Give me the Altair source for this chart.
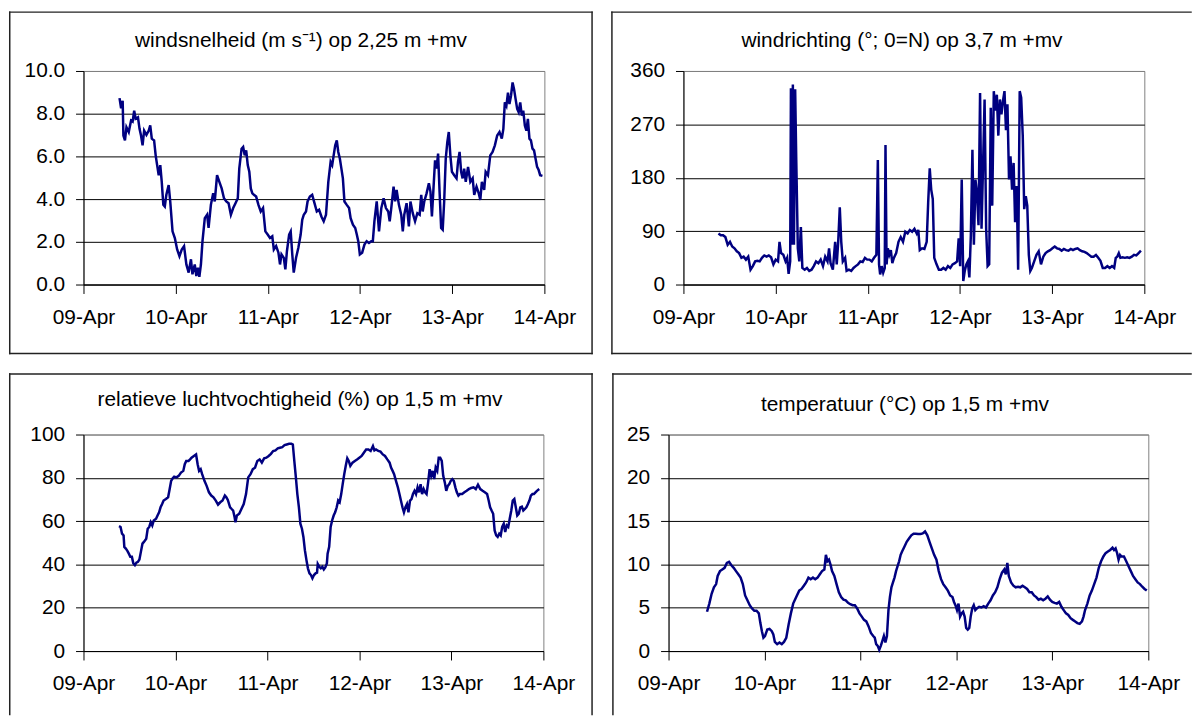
import json
import altair as alt
import pandas as pd

# ---------------- data (days since 09-Apr 00:00, value) ----------------
tick_labels = ["09-Apr", "10-Apr", "11-Apr", "12-Apr", "13-Apr", "14-Apr"]

ws_t = [0.391, 0.408, 0.425, 0.433, 0.45, 0.466, 0.491, 0.516, 0.533, 0.55, 0.566, 0.591, 0.608, 0.624, 0.641,
        0.658, 0.683, 0.708, 0.724, 0.741, 0.766, 0.783, 0.799, 0.816, 0.833, 0.849, 0.866, 0.882, 0.899, 0.924,
        0.941, 0.966, 0.991, 1.016, 1.041, 1.066, 1.091, 1.116, 1.141, 1.166, 1.182, 1.207, 1.224, 1.241, 1.257,
        1.274, 1.291, 1.316, 1.341, 1.357, 1.382, 1.407, 1.424, 1.449, 1.474, 1.499, 1.524, 1.549, 1.574, 1.599,
        1.624, 1.649, 1.674, 1.69, 1.715, 1.732, 1.749, 1.765, 1.782, 1.799, 1.815, 1.832, 1.849, 1.873, 1.898,
        1.923, 1.948, 1.973, 1.998, 2.023, 2.048, 2.065, 2.09, 2.115, 2.132, 2.148, 2.173, 2.19, 2.207, 2.231,
        2.248, 2.265, 2.281, 2.306, 2.331, 2.356, 2.373, 2.39, 2.414, 2.431, 2.456, 2.481, 2.506, 2.531, 2.556,
        2.581, 2.606, 2.631, 2.656, 2.681, 2.698, 2.714, 2.731, 2.748, 2.764, 2.781, 2.798, 2.814, 2.831, 2.856,
        2.881, 2.898, 2.923, 2.948, 2.965, 2.981, 2.998, 3.023, 3.048, 3.072, 3.097, 3.122, 3.139, 3.156, 3.181,
        3.206, 3.231, 3.256, 3.281, 3.306, 3.322, 3.339, 3.364, 3.381, 3.397, 3.422, 3.447, 3.464, 3.48, 3.505,
        3.53, 3.547, 3.572, 3.597, 3.622, 3.647, 3.664, 3.68, 3.697, 3.722, 3.747, 3.764, 3.78, 3.797, 3.814,
        3.83, 3.847, 3.863, 3.88, 3.897, 3.913, 3.93, 3.947, 3.963, 3.98, 3.997, 4.022, 4.047, 4.063, 4.08,
        4.097, 4.113, 4.13, 4.147, 4.172, 4.197, 4.222, 4.239, 4.264, 4.288, 4.305, 4.322, 4.347, 4.363, 4.388,
        4.413, 4.438, 4.463, 4.488, 4.513, 4.538, 4.555, 4.571, 4.588, 4.605, 4.621, 4.638, 4.655, 4.671, 4.688,
        4.705, 4.721, 4.738, 4.755, 4.771, 4.788, 4.805, 4.821, 4.838, 4.854, 4.871, 4.888, 4.904, 4.921, 4.938,
        4.954, 4.979]
ws_v = [8.73, 8.25, 8.6, 6.98, 6.75, 7.37, 7.14, 7.68, 7.63, 8.14, 7.76, 7.83, 7.29, 6.98, 6.52,
        7.21, 7.01, 7.21, 7.45, 6.83, 6.75, 6.05, 5.59, 5.12, 5.59, 4.81, 3.73, 3.65, 4.2, 4.66,
        3.89, 2.49, 2.18, 1.64, 1.33, 1.64, 1.8, 0.94, 0.56, 1.18, 0.48, 0.94, 0.4, 0.79, 0.36,
        0.94, 2.03, 3.11, 3.27, 2.65, 3.73, 4.27, 3.89, 5.12, 4.81, 4.5, 4.04, 3.89, 3.81, 3.27,
        3.58, 3.81, 4.04, 5.43, 6.36, 6.44, 6.05, 6.28, 5.59, 5.28, 4.5, 4.27, 4.2, 4.12, 3.73,
        3.42, 3.58, 2.49, 2.34, 2.18, 2.26, 1.64, 1.8, 1.49, 0.94, 1.41, 1.25, 0.71, 1.56, 2.34,
        2.49, 1.41, 0.56, 1.25, 1.72, 2.34, 3.03, 3.27, 3.42, 3.89, 4.12, 4.2, 3.81, 3.42, 3.5,
        3.19, 2.96, 3.27, 4.81, 5.74, 5.59, 6.05, 6.52, 6.75, 6.21, 5.9, 5.43, 4.97, 3.89, 3.73,
        3.58, 3.11, 2.8, 2.65, 2.34, 2.03, 1.41, 1.49, 1.87, 2.03, 1.95, 2.03, 2.03, 2.96, 3.89,
        2.49, 3.58, 4.04, 3.58, 3.42, 2.96, 3.58, 4.58, 3.89, 4.43, 3.73, 3.27, 2.49, 3.27, 3.81,
        2.72, 3.89, 3.34, 2.96, 3.34, 3.27, 4.2, 3.42, 3.89, 4.27, 4.74, 4.35, 3.19, 4.5, 5.82,
        5.43, 6.13, 4.35, 2.65, 2.57, 3.89, 5.9, 6.67, 7.14, 6.05, 5.28, 5.12, 4.97, 5.74, 6.21,
        5.28, 4.97, 5.43, 4.81, 5.51, 4.81, 4.97, 4.2, 4.58, 4.27, 3.96, 4.81, 4.43, 5.28, 5.12,
        6.05, 6.21, 6.52, 6.98, 7.14, 6.83, 7.29, 8.53, 8.37, 8.99, 8.45, 8.84, 9.46, 9.15, 8.68,
        8.22, 8.07, 8.53, 7.91, 8.14, 7.45, 7.21, 7.76, 6.83, 6.75, 6.36, 6.28, 5.9, 5.51, 5.36,
        5.12, 5.09]

wd_t = [0.38, 0.405, 0.43, 0.455, 0.48, 0.505, 0.529, 0.554, 0.579, 0.604, 0.629, 0.653, 0.678, 0.703, 0.728,
        0.753, 0.778, 0.802, 0.827, 0.852, 0.877, 0.902, 0.926, 0.951, 0.976, 1.001, 1.026, 1.042, 1.059, 1.084,
        1.108, 1.125, 1.141, 1.158, 1.166, 1.179, 1.187, 1.199, 1.212, 1.224, 1.241, 1.257, 1.274, 1.29, 1.315,
        1.34, 1.365, 1.39, 1.414, 1.439, 1.464, 1.489, 1.514, 1.538, 1.563, 1.58, 1.596, 1.621, 1.646, 1.663,
        1.679, 1.696, 1.712, 1.729, 1.754, 1.77, 1.795, 1.82, 1.845, 1.869, 1.894, 1.919, 1.944, 1.969, 1.993,
        2.018, 2.043, 2.068, 2.093, 2.109, 2.122, 2.134, 2.151, 2.167, 2.184, 2.192, 2.204, 2.217, 2.233, 2.25,
        2.266, 2.283, 2.308, 2.333, 2.357, 2.382, 2.407, 2.432, 2.456, 2.481, 2.506, 2.531, 2.548, 2.564, 2.589,
        2.614, 2.639, 2.655, 2.672, 2.688, 2.705, 2.721, 2.746, 2.771, 2.796, 2.82, 2.845, 2.87, 2.895, 2.92,
        2.945, 2.969, 2.986, 3.002, 3.019, 3.036, 3.052, 3.069, 3.085, 3.102, 3.118, 3.135, 3.151, 3.168, 3.184,
        3.201, 3.218, 3.234, 3.251, 3.267, 3.284, 3.3, 3.317, 3.334, 3.35, 3.367, 3.383, 3.4, 3.416, 3.433,
        3.45, 3.466, 3.483, 3.499, 3.515, 3.532, 3.548, 3.565, 3.582, 3.598, 3.615, 3.631, 3.648, 3.664, 3.681,
        3.697, 3.714, 3.73, 3.747, 3.763, 3.78, 3.805, 3.83, 3.854, 3.879, 3.904, 3.929, 3.954, 3.978, 4.003,
        4.028, 4.053, 4.078, 4.103, 4.127, 4.152, 4.177, 4.202, 4.226, 4.251, 4.276, 4.301, 4.326, 4.351, 4.375,
        4.4, 4.425, 4.45, 4.475, 4.5, 4.524, 4.549, 4.574, 4.599, 4.624, 4.649, 4.673, 4.69, 4.706, 4.723,
        4.74, 4.764, 4.789, 4.814, 4.839, 4.864, 4.888, 4.913, 4.938, 4.963]
wd_v = [86, 83, 83, 80, 67, 72, 64, 61, 56, 53, 45, 47, 42, 47, 25,
        31, 39, 40, 39, 45, 49, 47, 49, 46, 34, 42, 39, 72, 53, 50,
        39, 45, 18, 39, 331, 67, 337, 67, 329, 210, 61, 39, 97, 28, 25,
        28, 23, 25, 31, 39, 36, 42, 31, 47, 39, 61, 36, 25, 72, 34,
        72, 130, 72, 39, 45, 23, 25, 23, 28, 31, 34, 39, 38, 45, 42,
        42, 39, 45, 50, 210, 34, 17, 31, 20, 28, 235, 34, 61, 50, 58,
        36, 45, 53, 72, 80, 72, 89, 86, 92, 89, 94, 86, 92, 58, 61,
        60, 72, 138, 196, 160, 144, 45, 34, 25, 25, 28, 25, 31, 28, 34,
        36, 39, 78, 31, 177, 6, 23, 34, 39, 12, 83, 227, 67, 177, 155,
        100, 323, 94, 205, 312, 94, 31, 34, 298, 133, 326, 293, 320, 251, 312,
        287, 309, 326, 260, 304, 177, 216, 160, 205, 105, 166, 25, 326, 315, 251,
        127, 149, 133, 50, 23, 28, 39, 50, 56, 34, 47, 53, 56, 58, 61,
        64, 61, 60, 57, 60, 58, 57, 60, 58, 60, 61, 58, 56, 55, 53,
        50, 47, 47, 50, 45, 40, 28, 28, 31, 28, 31, 28, 45, 47, 53,
        45, 46, 45, 46, 45, 47, 50, 49, 53, 57]

rh_t = [0.386, 0.403, 0.419, 0.436, 0.444, 0.46, 0.477, 0.493, 0.509, 0.526, 0.542, 0.559, 0.575, 0.592, 0.608,
        0.624, 0.641, 0.657, 0.682, 0.698, 0.715, 0.731, 0.748, 0.764, 0.789, 0.805, 0.822, 0.838, 0.855, 0.871,
        0.896, 0.92, 0.937, 0.953, 0.97, 0.986, 1.011, 1.035, 1.06, 1.085, 1.101, 1.117, 1.142, 1.159, 1.175,
        1.2, 1.224, 1.241, 1.257, 1.274, 1.29, 1.315, 1.339, 1.364, 1.389, 1.413, 1.438, 1.463, 1.487, 1.512,
        1.537, 1.553, 1.569, 1.594, 1.611, 1.627, 1.643, 1.652, 1.668, 1.693, 1.717, 1.742, 1.767, 1.791, 1.816,
        1.841, 1.865, 1.89, 1.915, 1.939, 1.964, 1.988, 2.013, 2.038, 2.062, 2.087, 2.112, 2.136, 2.161, 2.186,
        2.21, 2.235, 2.26, 2.276, 2.292, 2.309, 2.325, 2.342, 2.358, 2.375, 2.391, 2.407, 2.424, 2.44, 2.457,
        2.473, 2.489, 2.506, 2.523, 2.539, 2.547, 2.564, 2.58, 2.597, 2.613, 2.629, 2.646, 2.654, 2.671, 2.687,
        2.703, 2.72, 2.736, 2.753, 2.769, 2.785, 2.802, 2.818, 2.835, 2.851, 2.868, 2.884, 2.901, 2.925, 2.95,
        2.974, 2.999, 3.024, 3.048, 3.073, 3.098, 3.122, 3.147, 3.163, 3.18, 3.205, 3.229, 3.254, 3.278, 3.303,
        3.328, 3.344, 3.361, 3.377, 3.402, 3.418, 3.435, 3.451, 3.468, 3.484, 3.5, 3.517, 3.533, 3.55, 3.566,
        3.582, 3.599, 3.615, 3.632, 3.648, 3.665, 3.681, 3.698, 3.714, 3.73, 3.747, 3.763, 3.78, 3.796, 3.813,
        3.829, 3.846, 3.862, 3.878, 3.895, 3.911, 3.928, 3.944, 3.961, 3.977, 3.993, 4.01, 4.026, 4.043, 4.059,
        4.076, 4.092, 4.117, 4.141, 4.166, 4.191, 4.215, 4.24, 4.265, 4.289, 4.314, 4.339, 4.363, 4.388, 4.405,
        4.421, 4.437, 4.454, 4.47, 4.487, 4.503, 4.52, 4.536, 4.552, 4.569, 4.585, 4.602, 4.618, 4.634, 4.651,
        4.667, 4.684, 4.7, 4.716, 4.733, 4.749, 4.766, 4.782, 4.799, 4.815, 4.832, 4.848, 4.864, 4.881, 4.897,
        4.914, 4.93, 4.955]
rh_v = [57.7, 57.3, 54.2, 53.4, 48.1, 47.3, 46.3, 45.0, 43.5, 43.5, 40.5, 39.7, 40.8, 41.2, 42.3,
        45.8, 49.6, 50.4, 51.9, 56.5, 57.3, 59.5, 58.0, 60.3, 61.1, 62.6, 64.1, 66.4, 67.9, 69.5,
        70.2, 71.0, 74.8, 78.6, 79.8, 80.5, 80.2, 80.9, 82.4, 83.2, 86.3, 87.8, 87.8, 88.5, 89.3,
        90.1, 90.8, 86.3, 83.2, 84.0, 81.7, 78.6, 76.3, 73.3, 71.8, 71.0, 69.5, 67.6, 68.7, 69.5,
        71.8, 71.0, 69.8, 66.4, 65.6, 64.9, 61.8, 59.5, 62.6, 63.4, 65.6, 67.9, 72.5, 80.2, 81.7,
        84.0, 84.7, 87.8, 88.5, 87.0, 89.0, 89.3, 90.1, 91.1, 92.4, 92.7, 93.6, 93.9, 94.2, 95.1,
        95.4, 95.7, 95.7, 95.4, 87.8, 80.2, 72.5, 66.4, 58.8, 56.5, 52.7, 46.6, 42.0, 38.2, 35.9,
        35.1, 33.6, 35.1, 35.9, 36.2, 40.2, 38.9, 38.2, 38.9, 37.7, 38.6, 40.5, 45.0, 48.1, 57.3,
        60.3, 62.6, 64.1, 66.4, 69.5, 68.7, 72.5, 77.1, 81.7, 85.5, 89.0, 87.8, 85.5, 87.0, 87.8,
        88.5, 89.3, 90.1, 91.6, 93.1, 93.1, 92.4, 94.7, 92.7, 93.1, 92.4, 92.1, 90.8, 90.1, 88.5,
        87.0, 84.7, 83.2, 81.7, 77.9, 75.6, 72.5, 69.5, 66.4, 64.1, 66.4, 67.9, 64.1, 69.5, 70.2,
        72.5, 74.0, 72.5, 75.6, 73.3, 77.1, 72.5, 74.8, 73.3, 72.5, 77.9, 84.0, 80.9, 83.2, 79.4,
        84.7, 83.2, 89.3, 89.3, 87.8, 80.9, 77.9, 74.0, 76.3, 77.1, 78.6, 79.4, 78.6, 75.6, 73.3,
        71.8, 72.5, 72.5, 73.3, 74.0, 74.8, 75.3, 75.6, 74.8, 76.8, 74.8, 74.0, 73.3, 72.5, 69.5,
        66.4, 64.9, 63.4, 55.7, 53.4, 52.7, 54.2, 53.4, 57.3, 58.8, 55.0, 58.0, 57.3, 61.1, 64.9,
        69.5, 70.2, 66.4, 62.6, 63.4, 66.4, 66.7, 64.9, 65.6, 66.4, 67.9, 69.5, 71.8, 72.5, 72.5,
        73.3, 74.0, 74.8]

tc_t = [0.401, 0.425, 0.449, 0.473, 0.496, 0.512, 0.536, 0.56, 0.584, 0.608, 0.631, 0.655, 0.679, 0.703, 0.727,
        0.751, 0.774, 0.798, 0.822, 0.846, 0.87, 0.894, 0.917, 0.941, 0.957, 0.973, 0.989, 1.005, 1.029, 1.052,
        1.076, 1.092, 1.108, 1.132, 1.156, 1.18, 1.203, 1.227, 1.251, 1.275, 1.299, 1.315, 1.338, 1.362, 1.386,
        1.41, 1.434, 1.458, 1.481, 1.505, 1.529, 1.553, 1.577, 1.6, 1.624, 1.64, 1.656, 1.672, 1.688, 1.704,
        1.728, 1.751, 1.775, 1.799, 1.823, 1.847, 1.871, 1.894, 1.918, 1.942, 1.966, 1.99, 2.014, 2.037, 2.061,
        2.085, 2.109, 2.133, 2.149, 2.164, 2.18, 2.196, 2.212, 2.228, 2.244, 2.26, 2.276, 2.292, 2.307, 2.323,
        2.339, 2.355, 2.371, 2.387, 2.403, 2.419, 2.434, 2.458, 2.482, 2.506, 2.53, 2.554, 2.577, 2.601, 2.625,
        2.649, 2.673, 2.697, 2.72, 2.744, 2.768, 2.792, 2.816, 2.84, 2.863, 2.887, 2.911, 2.935, 2.959, 2.975,
        2.99, 3.006, 3.022, 3.038, 3.054, 3.07, 3.086, 3.102, 3.118, 3.134, 3.149, 3.165, 3.181, 3.197, 3.213,
        3.237, 3.261, 3.284, 3.308, 3.332, 3.356, 3.38, 3.404, 3.427, 3.451, 3.475, 3.499, 3.515, 3.531, 3.546,
        3.57, 3.594, 3.618, 3.642, 3.666, 3.689, 3.713, 3.737, 3.761, 3.785, 3.809, 3.832, 3.856, 3.88, 3.904,
        3.928, 3.952, 3.975, 3.999, 4.023, 4.047, 4.071, 4.095, 4.118, 4.142, 4.166, 4.19, 4.214, 4.238, 4.261,
        4.285, 4.309, 4.325, 4.341, 4.365, 4.389, 4.412, 4.436, 4.46, 4.484, 4.508, 4.532, 4.555, 4.579, 4.603,
        4.627, 4.643, 4.659, 4.675, 4.69, 4.706, 4.722, 4.746, 4.77, 4.794, 4.818, 4.841, 4.865, 4.889, 4.913,
        4.937, 4.961, 4.984]
tc_v = [4.54, 5.48, 6.61, 7.36, 7.73, 8.67, 9.23, 9.42, 9.61, 10.17, 10.29, 9.91, 9.61, 9.23, 8.86,
        8.48, 7.73, 6.42, 5.86, 5.29, 4.92, 4.65, 4.65, 4.35, 3.23, 2.29, 1.54, 1.73, 2.48, 2.55,
        2.29, 1.91, 1.05, 0.79, 0.98, 0.79, 1.05, 1.54, 3.04, 4.35, 5.48, 5.86, 6.42, 6.98, 7.17,
        7.55, 7.92, 8.48, 8.3, 8.48, 8.3, 8.48, 8.86, 9.23, 9.42, 11.11, 10.36, 10.55, 9.98, 9.23,
        8.67, 7.73, 6.79, 6.23, 5.93, 5.86, 5.56, 5.41, 5.29, 5.29, 4.92, 4.35, 3.98, 3.6, 3.42,
        2.85, 2.1, 1.73, 1.54, 0.79, 0.6, 0.15, 0.6, 1.16, 1.73, 0.98, 1.73, 4.73, 6.23, 7.36,
        7.92, 8.48, 9.23, 9.8, 10.36, 11.11, 11.49, 12.05, 12.61, 12.99, 13.36, 13.55, 13.55, 13.51, 13.51,
        13.59, 13.81, 13.36, 12.61, 11.86, 11.11, 10.55, 9.23, 8.3, 7.73, 7.36, 6.98, 6.42, 6.23, 5.67,
        5.29, 4.73, 5.48, 3.98, 4.35, 4.54, 3.98, 2.67, 2.48, 2.67, 3.98, 4.92, 5.29, 4.73, 4.92,
        5.11, 5.03, 5.18, 5.03, 5.48, 5.86, 6.42, 6.79, 7.36, 8.3, 9.05, 9.42, 8.86, 10.17, 8.67,
        7.92, 7.55, 7.36, 7.43, 7.36, 7.55, 7.36, 7.17, 6.79, 6.79, 6.42, 6.23, 5.93, 6.04, 5.86,
        6.04, 6.31, 5.93, 5.67, 5.56, 5.48, 5.67, 5.11, 4.73, 4.35, 4.17, 3.79, 3.6, 3.42, 3.23,
        3.15, 3.42, 3.98, 4.73, 5.48, 6.42, 6.98, 7.73, 8.48, 9.61, 10.36, 10.92, 11.3, 11.49, 11.67,
        11.94, 11.67, 11.86, 11.3, 10.55, 11.11, 10.92, 10.92, 10.36, 9.8, 9.23, 8.67, 8.3, 7.92, 7.73,
        7.43, 7.17, 6.98]

titles = ["windsnelheid (m s\u207b\u00b9) op 2,25 m +mv",
          "windrichting (\u00b0; 0=N) op 3,7 m +mv",
          "relatieve luchtvochtigheid (%) op 1,5 m +mv",
          "temperatuur (\u00b0C) op 1,5 m +mv"]

# ---------------- styling ----------------
FONT = "Liberation Sans"
LINE_COLOR = "#000080"
FRAME_COLOR = "#222222"
FS = 21
label_expr = json.dumps(tick_labels) + "[round(datum.value)]"


def frame_rules(left, right, top, bottom, sides):
    layers = []
    one = pd.DataFrame({"k": [0]})
    segs = {
        "top": (left, right, top, top),
        "bottom": (left, right, bottom, bottom),
        "left": (left, left, top, bottom),
        "right": (right, right, top, bottom),
    }
    for s in sides:
        x1, x2, y1, y2 = segs[s]
        layers.append(
            alt.Chart(one).mark_rule(color=FRAME_COLOR, strokeWidth=1.5, strokeCap="square").encode(
                x=alt.value(x1), x2=alt.value(x2), y=alt.value(y1), y2=alt.value(y2)
            )
        )
    return layers


def panel(t, v, ymax, yticks, yfmt, title, w, h, frame, sides, tpos):
    df = pd.DataFrame({"t": t, "v": v})
    x = alt.X(
        "t:Q",
        scale=alt.Scale(domain=[0, 5], nice=False, zero=False),
        axis=alt.Axis(values=list(range(6)), labelExpr=label_expr, title=None, grid=False,
                      tickSize=9, labelPadding=13, labelFlush=False, labelOverlap=False),
    )
    y = alt.Y(
        "v:Q",
        scale=alt.Scale(domain=[0, ymax], nice=False, zero=True),
        axis=alt.Axis(values=yticks, format=yfmt, title=None, grid=True,
                      gridColor={"condition": {"test": f"datum.value >= {ymax}", "value": "#808080"},
                                 "value": "black"},
                      tickSize=8, labelPadding=11, labelFlush=False),
    )
    line = alt.Chart(df).mark_line(color=LINE_COLOR, strokeWidth=2.5).encode(x=x, y=y)
    ttl = alt.Chart(pd.DataFrame({"k": [0]})).mark_text(
        font=FONT, fontSize=FS, align="center", baseline="middle", color="black"
    ).encode(x=alt.value(tpos[0]), y=alt.value(tpos[1]), text=alt.value(title))
    return alt.layer(line, *frame_rules(*frame, sides), ttl).properties(width=w, height=h)


p1 = panel(ws_t, ws_v, 10, [0, 2, 4, 6, 8, 10], ".1f", titles[0], 464, 215,
           (-74.25, 512, -59.25, 284.5), ["top", "bottom", "left", "right"], (219, -30))
p2 = panel(wd_t, wd_v, 360, [0, 90, 180, 270, 360], "d", titles[1], 464, 215,
           (-72, 511, -59.25, 284.5), ["top", "bottom", "left"], (220, -30))
p3 = panel(rh_t, rh_v, 100, [0, 20, 40, 60, 80, 100], "d", titles[2], 463, 218,
           (-74.25, 512, -61, 282), ["top", "left", "right"], (218, -35))
p4 = panel(tc_t, tc_v, 25, [0, 5, 10, 15, 20, 25], "d", titles[3], 483, 218,
           (-56, 526, -61, 282), ["top", "left"], (238, -30))

row1 = alt.hconcat(p1, p2, spacing=140, bounds="flush")
row2 = alt.hconcat(p3, p4, spacing=126, bounds="flush")

chart = (
    alt.vconcat(row1, row2, spacing=16)
    .properties(padding=0, background="white")
    .configure_view(stroke="#808080", strokeWidth=1)
    .configure_axis(
        labelFont=FONT, labelFontSize=FS, labelColor="black",
        domainColor="black", domainWidth=1, tickColor="black", tickWidth=1,
        gridWidth=1,
    )
)

chart.save("out.html", embed_options={"renderer": "svg", "actions": False})
